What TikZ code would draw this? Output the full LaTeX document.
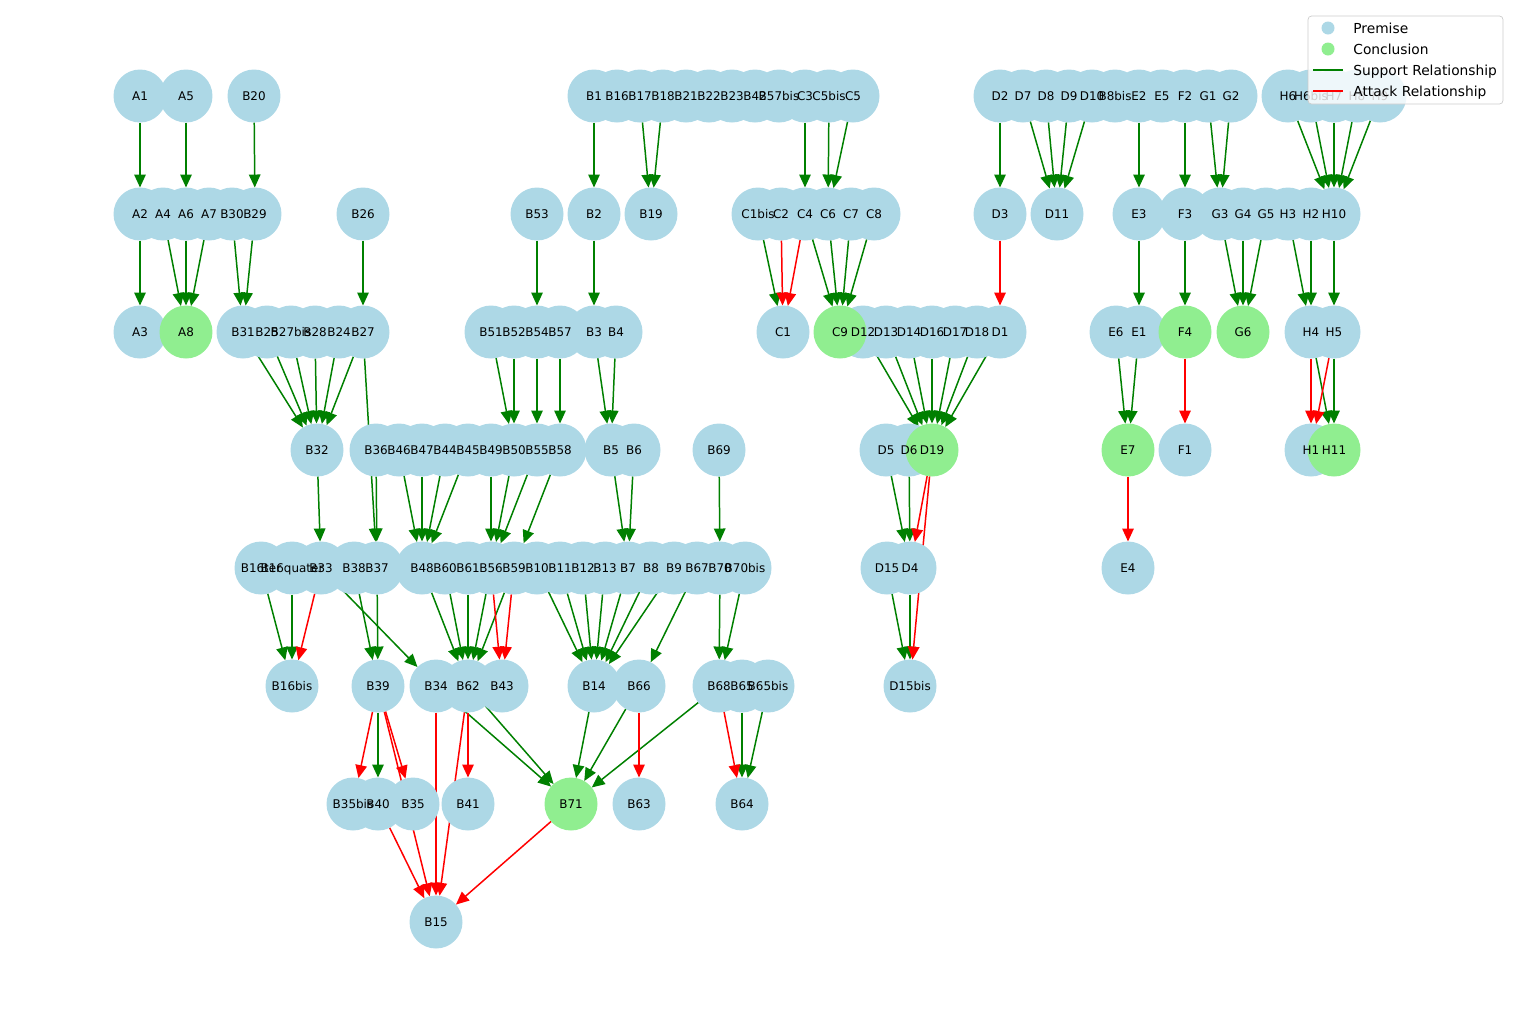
\documentclass[tikz,border=0pt]{standalone}
\usepackage{fontspec}
\setmainfont{DejaVu Sans}
\usetikzlibrary{arrows.meta}

\definecolor{premisecol}{HTML}{ADD8E6}
\definecolor{conclcol}{HTML}{90EE90}
\definecolor{suppcol}{HTML}{008000}
\definecolor{attcol}{HTML}{FF0000}

\pgfdeclarelayer{edges}
\pgfdeclarelayer{labels}
\pgfdeclarelayer{legend}
\pgfsetlayers{edges,main,labels,legend}

\tikzset{
  premise/.style={circle, fill=premisecol, minimum size=1.06cm, inner sep=0pt, outer sep=0pt},
  concl/.style={premise, fill=conclcol},
  txt/.style={font=\fontsize{6.8}{8}\selectfont, inner sep=0pt, anchor=base},
  legtxt/.style={font=\fontsize{7.85}{9}\selectfont, inner sep=0pt, anchor=base west},
  support/.style={color=suppcol, line width=0.85pt, -{Triangle[length=0.26cm,width=0.23cm]}},
  attack/.style={support, color=attcol},
}

% circle first, its text on the layer above all circles
\newcommand{\argnode}[4]{%
  \node[#1] (#2) at (#3,#4) {};
  \begin{pgfonlayer}{labels}\node[txt] at (#3,#4+4.4) {#2};\end{pgfonlayer}}

\begin{document}
\begin{tikzpicture}[x=0.02cm, y=-0.02cm]
\useasboundingbox (0,0) rectangle (1520,1019);

% premises
\foreach \n/\x in {A1/140, A5/186, B20/254, B1/594, B16/617, B17/640, B18/663, B21/686, B22/709, B23/732, B42/755, B57bis/779, C3/805, C5bis/829, C5/853, D2/1000, D7/1023, D8/1046, D9/1069, D10/1092, B8bis/1115, E2/1139, E5/1162, F2/1185, G1/1208, G2/1231, H6/1288, H6bis/1311, H7/1334, H8/1357, H9/1380}
  \argnode{premise}{\n}{\x}{96};
\foreach \n/\x in {A2/140, A4/163, A6/186, A7/209, B30/232, B29/255, B26/363, B53/537, B2/594, B19/651, C1bis/758, C2/781, C4/805, C6/828, C7/851, C8/874, D3/1000, D11/1057, E3/1139, F3/1185, G3/1220, G4/1243, G5/1266, H3/1288, H2/1311, H10/1334}
  \argnode{premise}{\n}{\x}{214};
\foreach \n/\x in {A3/140, B31/243, B25/267, B27bis/291, B28/315, B24/339, B27/363, B51/491, B52/514, B54/537, B57/560, B3/594, B4/616, C1/783, D12/863, D13/886, D14/909, D16/932, D17/955, D18/977, D1/1000, E6/1116, E1/1139, H4/1311, H5/1334}
  \argnode{premise}{\n}{\x}{332};
\foreach \n/\x in {B32/317, B36/376, B46/399, B47/422, B44/445, B45/468, B49/491, B50/514, B55/537, B58/560, B5/611, B6/634, B69/719, D5/886, D6/909, F1/1185, H1/1311}
  \argnode{premise}{\n}{\x}{450};
\foreach \n/\x in {B16ter/261, B16quater/292, B33/321, B38/354, B37/377, B48/422, B60/445, B61/468, B56/491, B59/514, B10/537, B11/560, B12/583, B13/605, B7/628, B8/651, B9/674, B67/697, B70/720, B70bis/745, D15/887, D4/910, E4/1128}
  \argnode{premise}{\n}{\x}{568};
\foreach \n/\x in {B16bis/292, B39/378, B34/436, B62/468, B43/502, B14/594, B66/639, B68/719, B65/742, B65bis/768, D15bis/910}
  \argnode{premise}{\n}{\x}{686};
\foreach \n/\x in {B35bis/353, B40/378, B35/413, B41/468, B63/639, B64/742}
  \argnode{premise}{\n}{\x}{804};
\argnode{premise}{B15}{436}{922};

% conclusions
\foreach \n/\x/\y in {A8/186/332, C9/840/332, F4/1185/332, G6/1243/332, D19/932/450, E7/1128/450, H11/1334/450, B71/571/804}
  \argnode{concl}{\n}{\x}{\y};

\begin{pgfonlayer}{edges}
\foreach \a/\b in {A1/A2, A5/A6, B20/B29, B1/B2, B17/B19, B18/B19, C3/C4, C5bis/C6, C5/C6, D2/D3, D7/D11, D8/D11, D9/D11, D10/D11, E2/E3, F2/F3, G1/G3, G2/G3, H6/H10, H6bis/H10, H7/H10, H8/H10, H9/H10,
    A2/A3, A4/A8, A6/A8, A7/A8, B30/B31, B29/B31, B26/B27, B53/B54, B2/B3, C1bis/C1, C4/C9, C6/C9, C7/C9, C8/C9, E3/E1, F3/F4, G3/G6, G4/G6, G5/G6, H3/H4, H2/H4, H10/H5,
    B31/B32, B25/B32, B27bis/B32, B28/B32, B24/B32, B27/B32, B51/B50, B52/B50, B54/B55, B57/B58, B3/B5, B4/B5, D12/D19, D13/D19, D14/D19, D16/D19, D17/D19, D18/D19, D1/D19, E6/E7, E1/E7, H4/H11, H5/H11,
    B32/B33, B27/B37, B36/B37, B46/B48, B47/B48, B44/B48, B45/B48, B49/B56, B50/B56, B55/B56, B58/B59, B5/B7, B6/B7, B69/B70, D5/D4, D6/D4,
    B16ter/B16bis, B16quater/B16bis, B33/B34, B38/B39, B37/B39, B48/B62, B60/B62, B61/B62, B56/B62, B59/B62, B10/B14, B11/B14, B12/B14, B13/B14, B7/B14, B8/B14, B9/B14, B67/B66, B70/B68, B70bis/B68, D15/D15bis, D4/D15bis,
    B39/B40, B34/B71, B62/B71, B14/B71, B66/B71, B68/B71, B65/B64, B65bis/B64}
  \draw[support] (\a) -- (\b);
\foreach \a/\b in {C2/C1, C4/C1, D3/D1, F4/F1, H4/H1, H5/H1, D19/D4, D19/D15bis, E7/E4, B33/B16bis, B56/B43, B59/B43, B39/B35bis, B39/B35, B39/B15, B62/B41, B66/B63, B68/B64, B40/B15, B34/B15, B62/B15, B71/B15}
  \draw[attack] (\a) -- (\b);
\end{pgfonlayer}

% legend
\begin{pgfonlayer}{legend}
\draw[draw=black!20, fill=white, fill opacity=0.8, rounded corners=2pt] (1308,16) rectangle (1503,104);
\node[circle, fill=premisecol, minimum size=0.26cm, inner sep=0pt] (legpremise) at (1328,28) {};
\node[circle, fill=conclcol, minimum size=0.26cm, inner sep=0pt] (legconcl) at (1328,49) {};
\coordinate (legsuppa) at (1313,70);
\coordinate (legsuppb) at (1343,70);
\coordinate (legatta) at (1313,91);
\coordinate (legattb) at (1343,91);
\draw[suppcol, line width=1.1pt] (legsuppa) -- (legsuppb);
\draw[attcol, line width=1.1pt] (legatta) -- (legattb);
\node[legtxt] (legpremisetxt) at (1353,33) {Premise};
\node[legtxt] (legconcltxt) at (1353,54) {Conclusion};
\node[legtxt] (legsupptxt) at (1353,75) {Support Relationship};
\node[legtxt] (legatttxt) at (1353,96) {Attack Relationship};
\end{pgfonlayer}

\end{tikzpicture}
\end{document}
